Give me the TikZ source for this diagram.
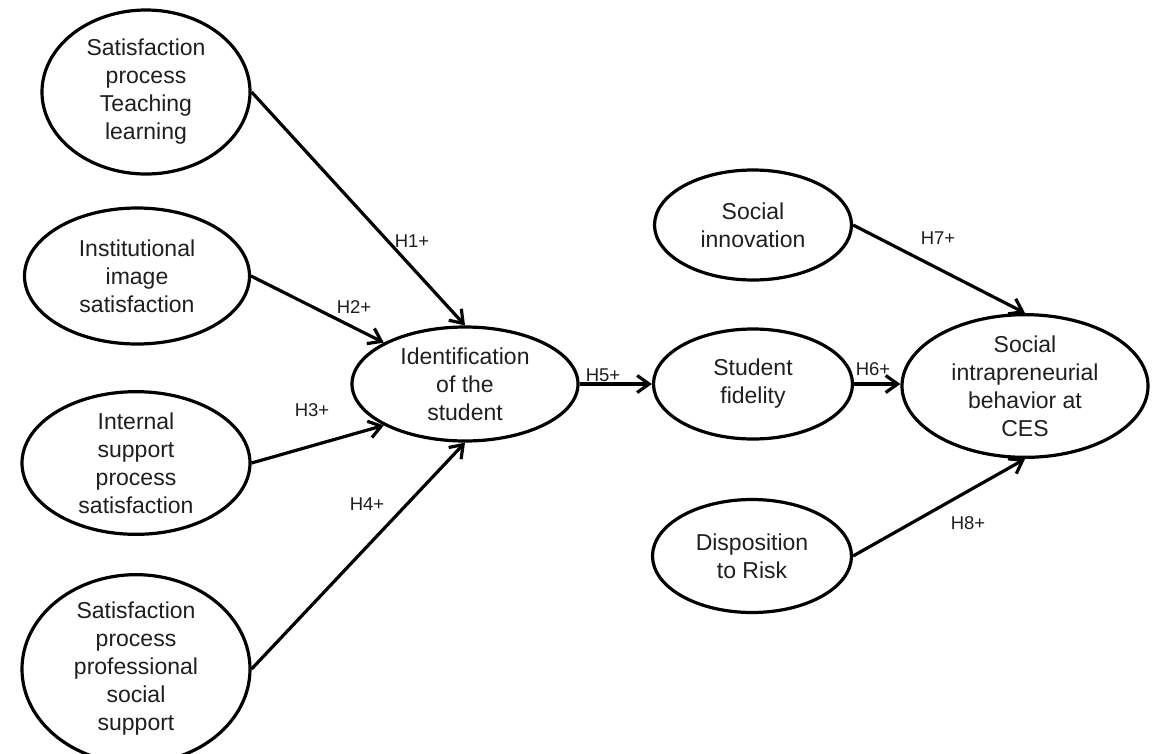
\documentclass[tikz,border=0pt]{standalone}
\usepackage{fontspec}
\setmainfont{Liberation Sans}
\usetikzlibrary{shapes.geometric,arrows.meta}
\tikzset{
  construct/.style={ellipse, draw=black, line width=3.2pt, inner sep=0pt, align=center,
    text=black!88, font=\fontsize{23}{28}\selectfont},
  path/.style={line width=3.2pt, draw=black, -{Straight Barb[length=12pt,width=17pt]}},
  hyp/.style={text=black!88, font=\fontsize{18.5}{20}\selectfont, inner sep=0pt}
}
\begin{document}
\begin{tikzpicture}[x=1pt,y=-1pt]
\useasboundingbox[fill=white] (0,0) rectangle (1161,753);
% left constructs
\node[construct, minimum width=208pt, minimum height=164pt] (e1) at (146,92) {Satisfaction\\process\\Teaching\\learning};
\node[construct, minimum width=225pt, minimum height=136pt] (e2) at (137,276) {Institutional\\image\\satisfaction};
\node[construct, minimum width=228pt, minimum height=140pt] (e3) at (136,463) {Internal\\support\\process\\satisfaction};
\node[construct, minimum width=228pt, minimum height=162pt] (e4) at (136,669) {Satisfaction\\process\\professional\\social\\support};
% middle
\node[construct, minimum width=226pt, minimum height=114pt] (id) at (465,384) {Identification\\of the\\student};
\node[construct, minimum width=199pt, minimum height=110pt] (fid) at (753,384) {Student\\fidelity};
\node[construct, minimum width=197pt, minimum height=110pt] (soc) at (753,225) {Social\\innovation};
\node[construct, minimum width=199pt, minimum height=113pt] (disp) at (752,556) {Disposition\\to Risk};
\node[construct, minimum width=246pt, minimum height=126pt] (sib) at (1025,386) {Social\\intrapreneurial\\behavior at\\CES};
% paths
\draw[path] (e1.east) -- (id.north);
\draw[path] (e2.east) -- (id.153);
\draw[path] (e3.east) -- (id.207);
\draw[path] (e4.east) -- (id.south);
\draw[path] (id.east) -- (fid.west);
\draw[path] (fid.east) -- (fid.east -| sib.west);
\draw[path] (soc.east) -- (sib.north);
\draw[path] (disp.east) -- (sib.south);
% labels
\node[hyp] (h1) at (412,241) {H1+};
\node[hyp] (h2) at (354,307) {H2+};
\node[hyp] (h3) at (312,410) {H3+};
\node[hyp] (h4) at (367,504) {H4+};
\node[hyp] (h5) at (603,375) {H5+};
\node[hyp] (h6) at (873,369) {H6+};
\node[hyp] (h7) at (938,238) {H7+};
\node[hyp] (h8) at (968,523) {H8+};
\end{tikzpicture}
\end{document}
